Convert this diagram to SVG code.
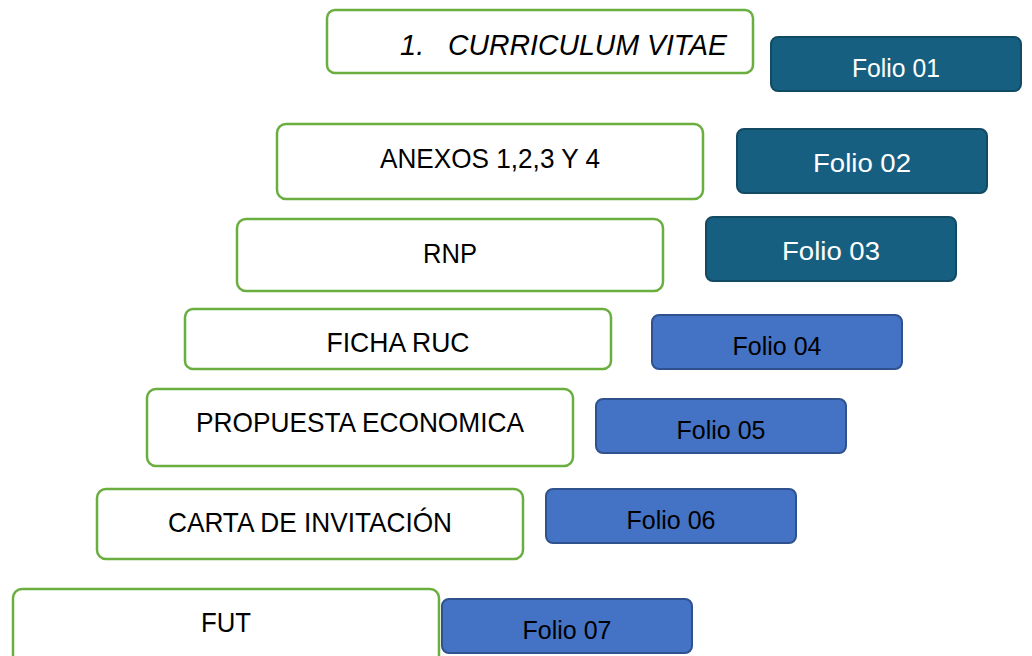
<svg xmlns="http://www.w3.org/2000/svg" width="1032" height="656" viewBox="0 0 1032 656">
<style>
.doc{fill:#fff;stroke:#6aae3f;stroke-width:2.5}
.fd{fill:#175f80;stroke:#124a63;stroke-width:2}
.fb{fill:#4472c4;stroke:#2f528f;stroke-width:2}
text{font-family:"Liberation Sans",Arial,sans-serif;text-anchor:middle}
.t{font-size:28px;fill:#000}
.w{font-size:26px;fill:#fff}
.k{font-size:25px;fill:#000}
.s{text-anchor:start;font-style:italic;font-size:29px}
</style>
<rect width="1032" height="656" fill="#fff"/>
<g id="connectors"/>
<g id="n1"><rect class="doc" x="327" y="10" width="426" height="63" rx="8"/><text class="t s" x="400" y="55">1.</text><text class="t s" x="448" y="55" textLength="279" lengthAdjust="spacingAndGlyphs">CURRICULUM VITAE</text></g>
<g id="f1"><rect class="fd" x="771" y="37" width="250" height="54" rx="7"/><text class="w" x="896" y="77" font-size="24" textLength="88" lengthAdjust="spacingAndGlyphs">Folio 01</text></g>
<g id="n2"><rect class="doc" x="277" y="124" width="426" height="75" rx="9"/><text class="t" x="490" y="168" textLength="220" lengthAdjust="spacingAndGlyphs">ANEXOS 1,2,3 Y 4</text></g>
<g id="f2"><rect class="fd" x="737" y="129" width="250" height="64" rx="7"/><text class="w" x="862" y="172" font-size="29" textLength="98" lengthAdjust="spacingAndGlyphs">Folio 02</text></g>
<g id="n3"><rect class="doc" x="237" y="219" width="426" height="72" rx="9"/><text class="t" x="450" y="263" textLength="54" lengthAdjust="spacingAndGlyphs">RNP</text></g>
<g id="f3"><rect class="fd" x="706" y="217" width="250" height="64" rx="7"/><text class="w" x="831" y="260" font-size="29" textLength="98" lengthAdjust="spacingAndGlyphs">Folio 03</text></g>
<g id="n4"><rect class="doc" x="185" y="309" width="426" height="60" rx="8"/><text class="t" x="398" y="352" textLength="143" lengthAdjust="spacingAndGlyphs">FICHA RUC</text></g>
<g id="f4"><rect class="fb" x="652" y="315" width="250" height="54" rx="7"/><text class="k" x="777" y="355" textLength="89" lengthAdjust="spacingAndGlyphs">Folio 04</text></g>
<g id="n5"><rect class="doc" x="147" y="389" width="426" height="77" rx="9"/><text class="t" x="360" y="432" textLength="328" lengthAdjust="spacingAndGlyphs">PROPUESTA ECONOMICA</text></g>
<g id="f5"><rect class="fb" x="596" y="399" width="250" height="54" rx="7"/><text class="k" x="721" y="439" textLength="89" lengthAdjust="spacingAndGlyphs">Folio 05</text></g>
<g id="n6"><rect class="doc" x="97" y="489" width="426" height="70" rx="9"/><text class="t" x="310" y="532" textLength="284" lengthAdjust="spacingAndGlyphs">CARTA DE INVITACIÓN</text></g>
<g id="f6"><rect class="fb" x="546" y="489" width="250" height="54" rx="7"/><text class="k" x="671" y="529" textLength="89" lengthAdjust="spacingAndGlyphs">Folio 06</text></g>
<g id="n7"><rect class="doc" x="13" y="589" width="426" height="80" rx="9"/><text class="t" x="226" y="632" textLength="50" lengthAdjust="spacingAndGlyphs">FUT</text></g>
<g id="f7"><rect class="fb" x="442" y="599" width="250" height="54" rx="7"/><text class="k" x="567" y="639" textLength="89" lengthAdjust="spacingAndGlyphs">Folio 07</text></g>
</svg>
